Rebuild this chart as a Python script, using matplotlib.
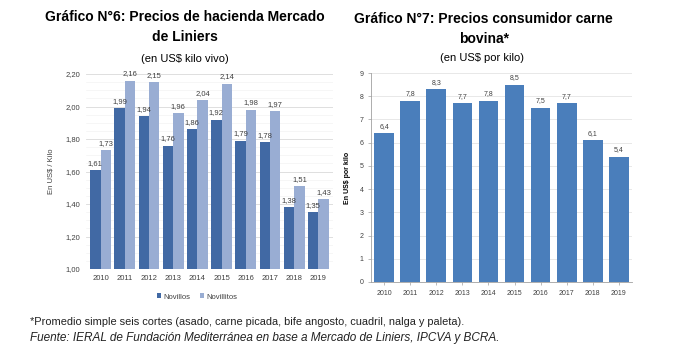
import matplotlib.pyplot as plt
import numpy as np

years = ["2010", "2011", "2012", "2013", "2014", "2015", "2016", "2017", "2018", "2019"]
novillos = [1.61, 1.99, 1.94, 1.76, 1.86, 1.92, 1.79, 1.78, 1.38, 1.35]
novillitos = [1.73, 2.16, 2.15, 1.96, 2.04, 2.14, 1.98, 1.97, 1.51, 1.43]
consumidor = [6.4, 7.8, 8.3, 7.7, 7.8, 8.5, 7.5, 7.7, 6.1, 5.4]

W, H = 688, 353
fig = plt.figure(figsize=(W / 100, H / 100), dpi=100)
plt.rcParams['font.family'] = ['Liberation Sans', 'DejaVu Sans']

c_dark = "#4169a4"
c_light = "#99add3"
c_bar = "#4a7ebb"


def fmt(v, d):
    return f"{v:.{d}f}".replace(".", ",")


# ---- grafico 6 ----
ax1 = fig.add_axes([86 / W, 1 - 269 / H, (333 - 86) / W, (269 - 74) / H])
x = np.arange(len(years))
w = 0.43
b1 = ax1.bar(x - w / 2, novillos, w, color=c_dark, label="Novillos")
b2 = ax1.bar(x + w / 2, novillitos, w, color=c_light, label="Novillitos")
ax1.set_ylim(1.0, 2.2)
ax1.set_xlim(-0.6, len(years) - 0.4)
ax1.set_yticks(np.arange(1.0, 2.21, 0.2))
ax1.set_yticklabels([fmt(v, 2) for v in np.arange(1.0, 2.21, 0.2)])
ax1.set_yticks(np.arange(1.0, 2.2, 0.05), minor=True)
ax1.set_xticks(x)
ax1.set_xticklabels(years)
ax1.tick_params(axis="both", length=0, labelsize=5.5, colors="#404040", pad=4)
ax1.tick_params(axis="y", which="minor", length=0)
ax1.grid(axis="y", which="major", color="#d9d9d9", lw=0.6)
ax1.grid(axis="y", which="minor", color="#f0f0f0", lw=0.4)
ax1.set_axisbelow(True)
for s in ax1.spines.values():
    s.set_visible(False)
for bars, vals in ((b1, novillos), (b2, novillitos)):
    for r, v in zip(bars, vals):
        ax1.text(r.get_x() + r.get_width() / 2, v + 0.02, fmt(v, 2),
                 ha="center", va="bottom", fontsize=5.5, color="#404040")
ax1.set_ylabel("En US$ / Kilo", fontsize=5.5, color="#404040", labelpad=8)
ax1.legend(loc="upper center", bbox_to_anchor=(0.45, -0.09), ncol=2, frameon=False,
           fontsize=5.5, handlelength=0.6, handleheight=0.6, columnspacing=1.2,
           handletextpad=0.3, labelcolor="#404040")

fig.text(185 / W, 1 - 17 / H, "Gráfico N°6: Precios de hacienda Mercado",
         ha="center", va="center", fontsize=10, fontweight="bold")
fig.text(185 / W, 1 - 37 / H, "de Liniers",
         ha="center", va="center", fontsize=10, fontweight="bold")
fig.text(185 / W, 1 - 59 / H, "(en US$ kilo vivo)",
         ha="center", va="center", fontsize=8)

# ---- grafico 7 ----
ax2 = fig.add_axes([371 / W, 1 - 282 / H, (632 - 371) / W, (282 - 73) / H])
bars = ax2.bar(x, consumidor, 0.75, color=c_bar)
ax2.set_ylim(0, 9)
ax2.set_xlim(-0.5, len(years) - 0.5)
ax2.set_yticks(range(0, 10))
ax2.set_xticks(x)
ax2.set_xticklabels(years)
ax2.tick_params(axis="both", labelsize=5, colors="#404040", length=2, width=0.5, color="#a0a0a0")
ax2.grid(axis="y", color="#e4e4e4", lw=0.6)
ax2.set_axisbelow(True)
for k in ("top", "right"):
    ax2.spines[k].set_visible(False)
for k in ("left", "bottom"):
    ax2.spines[k].set_color("#a0a0a0")
    ax2.spines[k].set_linewidth(0.6)
for r, v in zip(bars, consumidor):
    ax2.text(r.get_x() + r.get_width() / 2, v + 0.15, fmt(v, 1),
             ha="center", va="bottom", fontsize=5, color="#404040")
ax2.set_ylabel("En US$ por kilo", fontsize=5, fontweight="bold", labelpad=6)

fig.text(483 / W, 1 - 19 / H, "Gráfico N°7: Precios consumidor carne",
         ha="center", va="center", fontsize=10, fontweight="bold")
fig.text(484 / W, 1 - 39 / H, "bovina*",
         ha="center", va="center", fontsize=10, fontweight="bold")
fig.text(482 / W, 1 - 58 / H, "(en US$ por kilo)",
         ha="center", va="center", fontsize=8)

# ---- notas ----
fig.text(30 / W, 1 - 322 / H,
         "*Promedio simple seis cortes (asado, carne picada, bife angosto, cuadril, nalga y paleta).",
         ha="left", va="center", fontsize=7.9, color="#222222")
fig.text(30 / W, 1 - 338 / H,
         "Fuente: IERAL de Fundación Mediterránea en base a Mercado de Liniers, IPCVA y BCRA.",
         ha="left", va="center", fontsize=8.5, style="italic", color="#222222")

fig.savefig("out.png", dpi=100)
